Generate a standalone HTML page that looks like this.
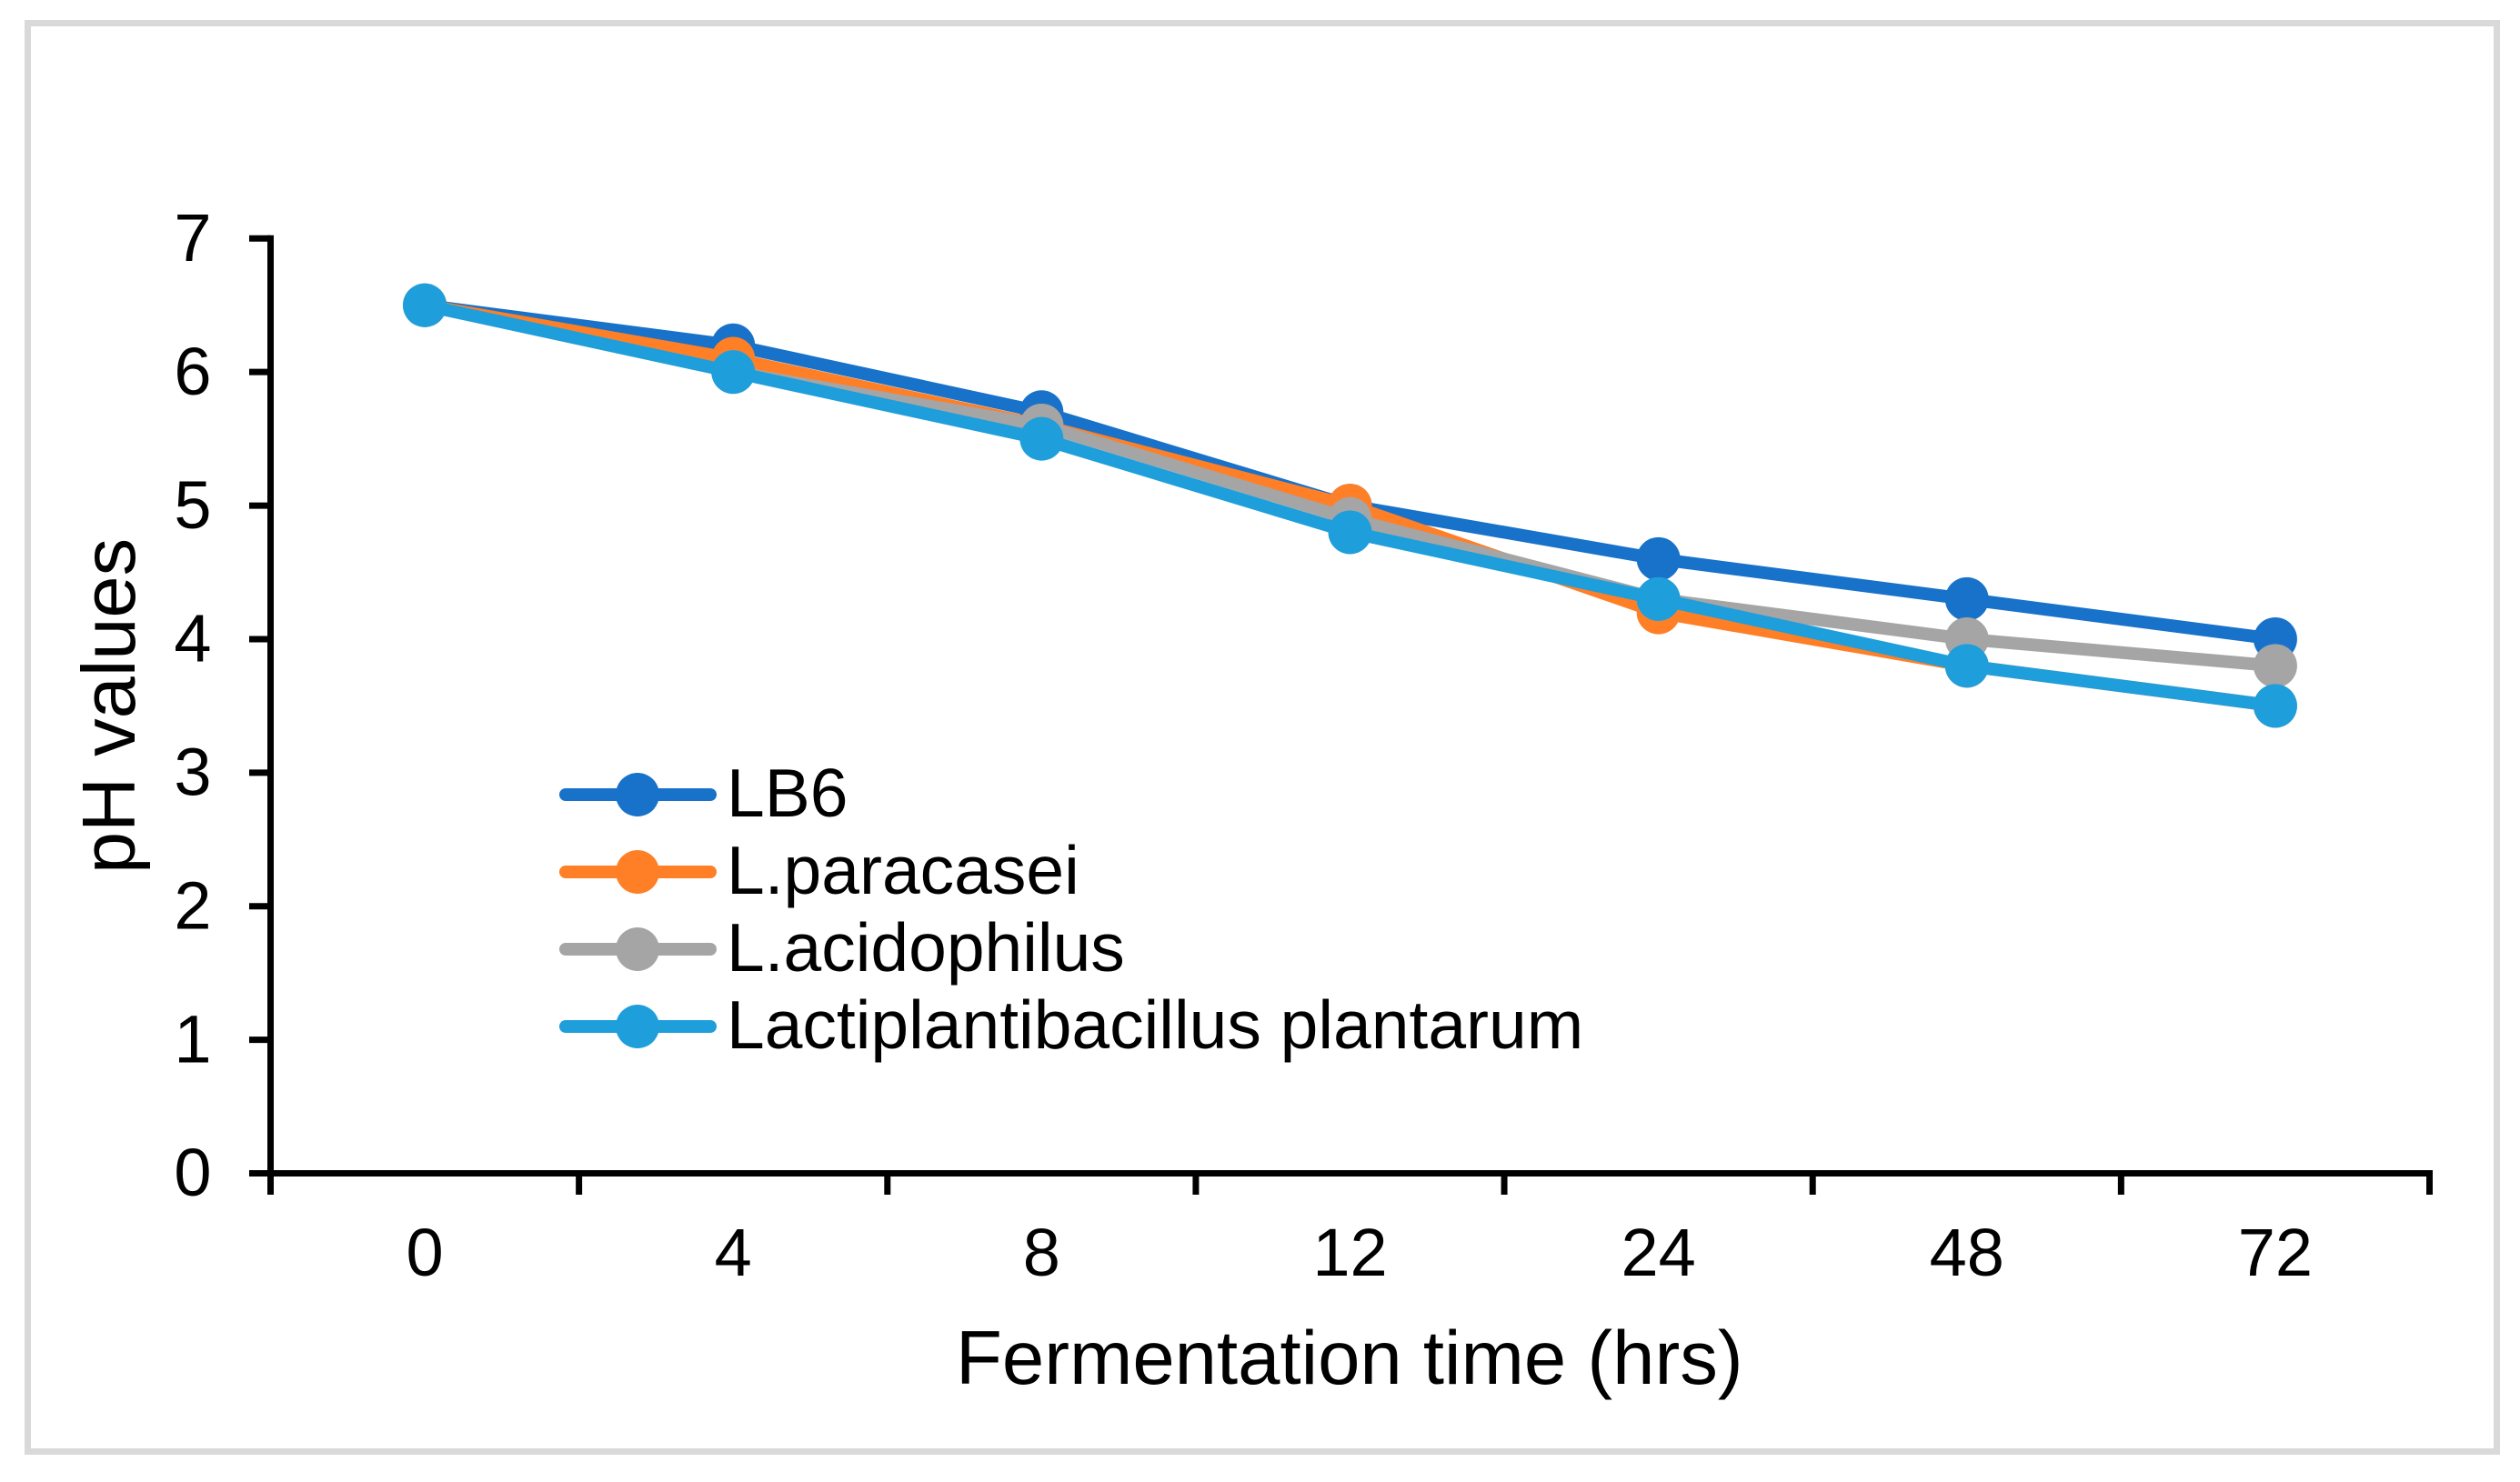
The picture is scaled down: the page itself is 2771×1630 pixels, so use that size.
<!DOCTYPE html>
<html lang="en">
<head>
<meta charset="utf-8">
<title>pH values over fermentation time</title>
<style>
html,body{margin:0;padding:0;background:#fff;}
svg{display:block;}
text{font-family:"Liberation Sans",Arial,sans-serif;fill:#000;}
</style>
</head>
<body>
<svg id="chart" xmlns="http://www.w3.org/2000/svg" width="2771" height="1630" viewBox="0 0 2771 1630">
  <rect x="30.5" y="25.5" width="2715" height="1571" fill="#fff" stroke="#d9d9d9" stroke-width="7"/>
  <g id="axes"></g>
  <g id="series"></g>
  <text x="1051" y="1522" font-size="83.3">Fermentation time (hrs)</text>
  <text x="0" y="0" font-size="83" transform="translate(148 961) rotate(-90)">pH values</text>
  <g>
    <g>
      <line x1="622" y1="874" x2="781" y2="874" stroke="#1872c9" stroke-width="14" stroke-linecap="round"/>
      <circle cx="701" cy="874" r="24" fill="#1872c9"/>
      <text x="799" y="898" font-size="75">LB6</text>
    </g>
    <g>
      <line x1="622" y1="959" x2="781" y2="959" stroke="#ff7f27" stroke-width="14" stroke-linecap="round"/>
      <circle cx="701" cy="959" r="24" fill="#ff7f27"/>
      <text x="799" y="983" font-size="75">L.paracasei</text>
    </g>
    <g>
      <line x1="622" y1="1044" x2="781" y2="1044" stroke="#a5a5a5" stroke-width="14" stroke-linecap="round"/>
      <circle cx="701" cy="1044" r="24" fill="#a5a5a5"/>
      <text x="799" y="1068" font-size="75">L.acidophilus</text>
    </g>
    <g>
      <line x1="622" y1="1129" x2="781" y2="1129" stroke="#1e9edb" stroke-width="14" stroke-linecap="round"/>
      <circle cx="701" cy="1129" r="24" fill="#1e9edb"/>
      <text x="799" y="1153" font-size="75">Lactiplantibacillus plantarum</text>
    </g>
  </g>
</svg>
<script>
const categories = ["0", "4", "8", "12", "24", "48", "72"];
const yTickValues = [0, 1, 2, 3, 4, 5, 6, 7];
const lb6 = [6.5, 6.2, 5.7, 5.0, 4.6, 4.3, 4.0];
const paracasei = [6.5, 6.1, 5.6, 5.0, 4.2, 3.8, 3.5];
const acidophilus = [6.5, 6.0, 5.6, 4.9, 4.3, 4.0, 3.8];
const plantarum = [6.5, 6.0, 5.5, 4.8, 4.3, 3.8, 3.5];

const NS = 'http://www.w3.org/2000/svg';
const plotLeft = 297.5, plotRight = 2671.5, plotBottom = 1290.5, plotTop = 262.3;
const yMax = 7;
const catStep = (plotRight - plotLeft) / categories.length;
function xAt(i) { return plotLeft + catStep * (i + 0.5); }
function xEdge(i) { return plotLeft + catStep * i; }
function yAt(v) { return plotBottom - (plotBottom - plotTop) * v / yMax; }
function make(tag, props, parent) {
  const el = document.createElementNS(NS, tag);
  for (const k in props) el.setAttribute(k, props[k]);
  parent.appendChild(el);
  return el;
}
const axes = document.getElementById('axes');
const yLine = make('line', {x1: plotLeft, y1: plotTop - 3.5, x2: plotLeft, y2: plotBottom + 3.5, stroke: '#000', 'stroke-width': 7}, axes);


const xLine = make('line', {x1: plotLeft - 3.5, y1: plotBottom, x2: plotRight + 3.5, y2: plotBottom, stroke: '#000', 'stroke-width': 7}, axes);


yTickValues.forEach(function (t) {
  const tick = make('line', {x1: 274, y1: yAt(t), x2: plotLeft, y2: yAt(t), stroke: '#000', 'stroke-width': 7}, axes);
  
  
  const label = make('text', {x: 232.5, y: yAt(t) + 24.7, 'font-size': 74, 'text-anchor': 'end'}, axes);
  
  
  label.textContent = String(t);
});
for (let i = 0; i <= categories.length; i++) {
  const tick = make('line', {x1: xEdge(i), y1: plotBottom, x2: xEdge(i), y2: 1314, stroke: '#000', 'stroke-width': 7}, axes);
  
  
}
categories.forEach(function (c, i) {
  const label = make('text', {x: xAt(i), y: 1403, 'font-size': 74, 'text-anchor': 'middle'}, axes);
  
  
  label.textContent = c;
});
const seriesGroup = document.getElementById('series');
function drawSeries(values, color, name) {
  const pts = values.map(function (v, i) { return xAt(i) + ',' + yAt(v); }).join(' ');
  const line = make('polyline', {points: pts, fill: 'none', stroke: color, 'stroke-width': 14, 'stroke-linejoin': 'round', 'stroke-linecap': 'round'}, seriesGroup);
  
  
  values.forEach(function (v, i) {
    const dot = make('circle', {cx: xAt(i), cy: yAt(v), r: 24, fill: color}, seriesGroup);
    
    
  });
}
drawSeries(lb6, '#1872c9', 'lb6');
drawSeries(paracasei, '#ff7f27', 'l-paracasei');
drawSeries(acidophilus, '#a5a5a5', 'l-acidophilus');
drawSeries(plantarum, '#1e9edb', 'lactiplantibacillus-plantarum');
</script>
</body>
</html>
